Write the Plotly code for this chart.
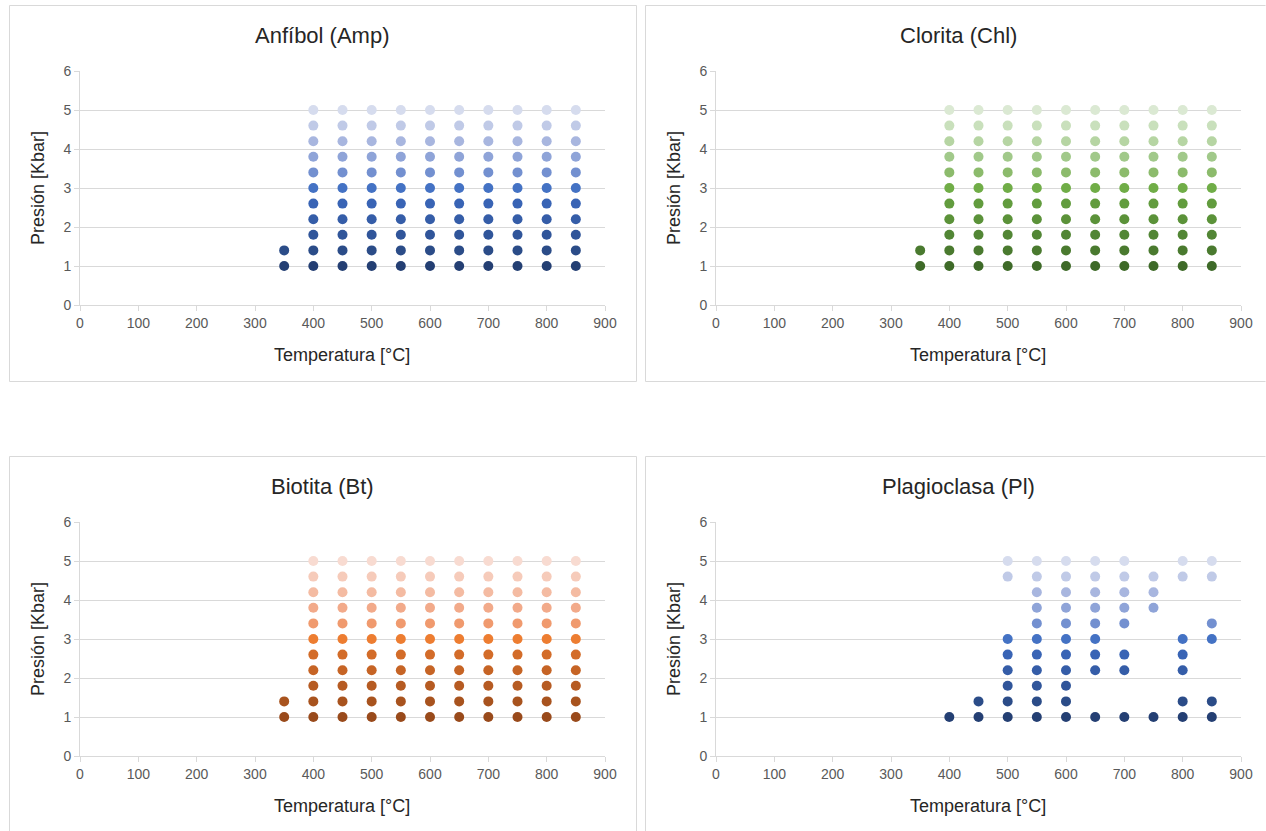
import plotly.graph_objects as go

# ---------------- data ----------------
pressures = [1.0, 1.4, 1.8, 2.2, 2.6, 3.0, 3.4, 3.8, 4.2, 4.6, 5.0]
x_ticks = [0, 100, 200, 300, 400, 500, 600, 700, 800, 900]
y_ticks = [0, 1, 2, 3, 4, 5, 6]

temps_low = [350, 400, 450, 500, 550, 600, 650, 700, 750, 800, 850]
temps_high = [400, 450, 500, 550, 600, 650, 700, 750, 800, 850]

amp_temps = [temps_low, temps_low] + [temps_high] * 9
chl_temps = [temps_low, temps_low] + [temps_high] * 9
bt_temps = [temps_low, temps_low] + [temps_high] * 9

pl_temps = [
    [400, 450, 500, 550, 600, 650, 700, 750, 800, 850],  # 1.0
    [450, 500, 550, 600, 800, 850],                      # 1.4
    [500, 550, 600],                                     # 1.8
    [500, 550, 600, 650, 700, 800],                      # 2.2
    [500, 550, 600, 650, 700, 800],                      # 2.6
    [500, 550, 600, 650, 800, 850],                      # 3.0
    [550, 600, 650, 700, 850],                           # 3.4
    [550, 600, 650, 700, 750],                           # 3.8
    [550, 600, 650, 700, 750],                           # 4.2
    [500, 550, 600, 650, 700, 750, 800, 850],            # 4.6
    [500, 550, 600, 650, 700, 800, 850],                 # 5.0
]

blue_shades = ["#243F73", "#2B4C88", "#30559A", "#355DA8", "#3964B5", "#4472C4",
               "#7390D0", "#8FA4D8", "#A8B6DF", "#C0CAE7", "#D6DCEE"]
green_shades = ["#3E6A28", "#4A7A2F", "#528635", "#5B9239", "#629C3E", "#70AD47",
                "#8CBB6C", "#A1C98A", "#B6D5A3", "#C9E0BC", "#DBE9D3"]
orange_shades = ["#994A1B", "#A8531E", "#B65B22", "#C66425", "#D36C29", "#ED7D31",
                 "#F09A6E", "#F2AA8A", "#F4BBA2", "#F6CBBA", "#F8DBD1"]

titles = ["Anfíbol (Amp)", "Clorita (Chl)", "Biotita (Bt)", "Plagioclasa (Pl)"]
x_title = "Temperatura [°C]"
y_title = "Presión [Kbar]"

# ---------------- layout ----------------
W, H = 1266, 831
FONT = "Liberation Sans, Arial, sans-serif"
BORDER = "#D9D9D9"

def fx(x):
    return min(max(x / W, 0.0), 1.0)

def fy(y):
    return min(max(1 - y / H, 0.0), 1.0)

panels = [
    (amp_temps, blue_shades, 0, 0),
    (chl_temps, green_shades, 636, 0),
    (bt_temps, orange_shades, 0, 451),
    (pl_temps, blue_shades, 636, 451),
]

fig = go.Figure()
layout = dict(
    width=W, height=H,
    margin=dict(l=0, r=0, t=0, b=0, pad=0, autoexpand=False),
    paper_bgcolor="white", plot_bgcolor="white",
    showlegend=False,
    shapes=[], annotations=[],
    font=dict(family=FONT, color="#595959"),
)

def edge(x0, y0, x1, y1):
    return dict(type="line", xref="paper", yref="paper",
                x0=fx(x0), y0=fy(y0), x1=fx(x1), y1=fy(y1),
                line=dict(color=BORDER, width=1), layer="below")

for i, (temps, shades, ox, oy) in enumerate(panels):
    n = "" if i == 0 else str(i + 1)
    for p, t_list, col in zip(pressures, temps, shades):
        fig.add_trace(go.Scatter(
            x=t_list, y=[p] * len(t_list),
            mode="markers",
            marker=dict(size=10, color=col, line=dict(width=0)),
            xaxis="x" + n, yaxis="y" + n,
            hoverinfo="x+y",
        ))
    x0p, x1p = 80 + ox, 605 + ox
    y0p, y1p = 305 + oy, 71 + oy
    layout["xaxis" + n] = dict(
        domain=[fx(x0p), fx(x1p)], anchor="y" + n,
        range=[0, 900], tickvals=x_ticks, ticktext=[str(v) for v in x_ticks],
        showgrid=False, zeroline=False,
        showline=True, linecolor=BORDER, linewidth=1,
        ticks="outside", ticklen=5, tickcolor=BORDER,
        tickfont=dict(size=14, color="#595959", family=FONT),
        fixedrange=True, automargin=False,
    )
    layout["yaxis" + n] = dict(
        domain=[fy(y0p), fy(y1p)], anchor="x" + n,
        range=[0, 6], tickvals=y_ticks, ticktext=[str(v) for v in y_ticks],
        showgrid=True, gridcolor=BORDER, gridwidth=1, zeroline=False,
        showline=True, linecolor=BORDER, linewidth=1,
        ticks="outside", ticklen=5, tickcolor=BORDER,
        tickfont=dict(size=14, color="#595959", family=FONT),
        fixedrange=True, automargin=False,
    )
    # panel border (Excel chart-area frame)
    left, right = 9.5 + ox, 636.5 + ox
    top, bottom = 5.5 + oy, 381.5 + oy
    right_c = min(right, W - 0.5)
    bottom_c = min(bottom, H)
    layout["shapes"].append(edge(left, top, right_c, top))
    layout["shapes"].append(edge(left, top, left, bottom_c))
    if right <= W:
        layout["shapes"].append(edge(right, top, right, bottom_c))
    if bottom <= H:
        layout["shapes"].append(edge(left, bottom, right_c, bottom))
    # chart title
    layout["annotations"].append(dict(
        text=titles[i], xref="paper", yref="paper",
        x=fx(322 + ox), y=fy(36 + oy), xanchor="center", yanchor="middle",
        showarrow=False, font=dict(size=22, color="#262626", family=FONT),
    ))
    # x axis title
    layout["annotations"].append(dict(
        text=x_title, xref="paper", yref="paper",
        x=fx(342 + ox), y=fy(355 + oy), xanchor="center", yanchor="middle",
        showarrow=False, font=dict(size=18, color="#262626", family=FONT),
    ))
    # y axis title
    layout["annotations"].append(dict(
        text=y_title, xref="paper", yref="paper",
        x=fx(38 + ox), y=fy(188 + oy), xanchor="center", yanchor="middle",
        textangle=-90,
        showarrow=False, font=dict(size=18, color="#262626", family=FONT),
    ))

fig.update_layout(**layout)

fig.write_html(
    "out.html",
    config={"displayModeBar": False},
    post_script=(
        "document.body.style.margin='0';"
        "document.body.style.overflow='hidden';"
    ),
)
